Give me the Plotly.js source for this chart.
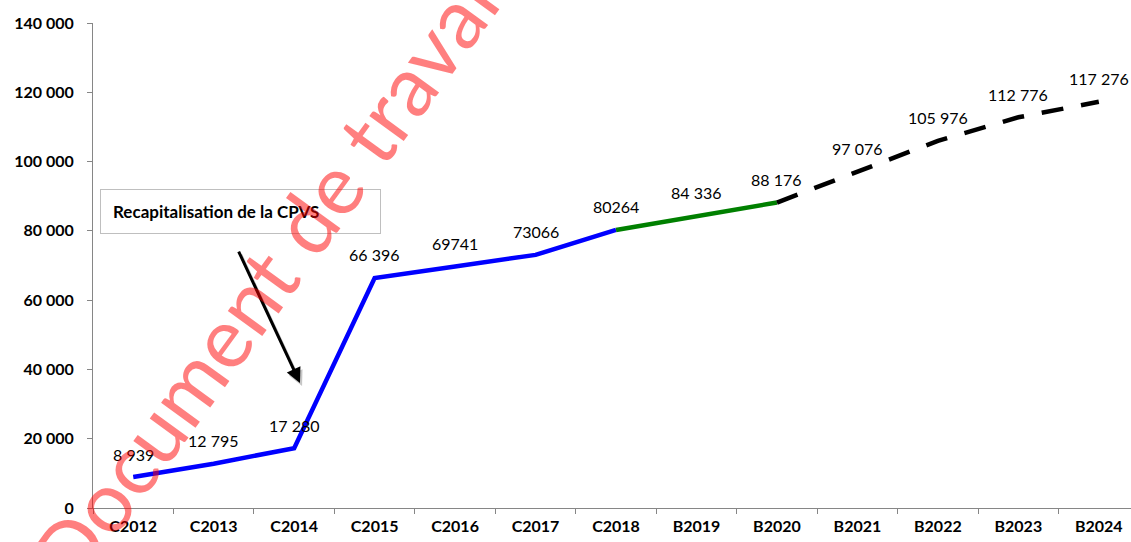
<!DOCTYPE html>
<html>
<head>
<meta charset="utf-8">
<script src="https://cdn.plot.ly/plotly-3.0.1.min.js"></script>
<style>
  html, body { margin: 0; padding: 0; background: #fff; }
  #plot { width: 1131px; height: 542px; }
</style>
</head>
<body>
<div id="plot"></div>
<script>
// categories (C = réalisé, B = budget)
const categories = ['C2012', 'C2013', 'C2014', 'C2015', 'C2016', 'C2017', 'C2018',
                    'B2019', 'B2020', 'B2021', 'B2022', 'B2023', 'B2024'];
const values = [8939, 12795, 17280, 66396, 69741, 73066, 80264,
                84336, 88176, 97076, 105976, 112776, 117276];
// labels as written on the chart
const valueLabels = ['8 939', '12 795', '17 280', '66 396', '69741', '73066', '80264',
                     '84 336', '88 176', '97 076', '105 976', '112 776', '117 276'];

// segments: realised (blue), 2019-2020 (green), projection (black dashes)
const blueEnd = 6, greenEnd = 8;

const font = 'Lato, "Open Sans", "DejaVu Sans", sans-serif';

const traces = [
    {
        x: categories.slice(0, blueEnd + 1),
        y: values.slice(0, blueEnd + 1),
        mode: 'lines',
        line: { color: '#0000FF', width: 4.5 },
        hoverinfo: 'skip'
    },
    {
        x: categories.slice(blueEnd, greenEnd + 1),
        y: values.slice(blueEnd, greenEnd + 1),
        mode: 'lines',
        line: { color: '#008000', width: 4.5 },
        hoverinfo: 'skip'
    },
    {
        x: categories.slice(greenEnd),
        y: values.slice(greenEnd),
        mode: 'lines',
        line: { color: '#000000', width: 4.5, dash: '22px,18px' },
        hoverinfo: 'skip'
    }
];

// data labels above each point
const labelNotes = categories.map((c, i) => ({
    x: c, y: values[i], xref: 'x', yref: 'y',
    text: valueLabels[i], showarrow: false,
    yshift: 23,
    font: { family: font, size: 16, color: '#000' }
}));

const layout = {
    width: 1131,
    height: 542,
    margin: { l: 93, r: 0, t: 23, b: 34 },
    paper_bgcolor: '#fff',
    plot_bgcolor: '#fff',
    showlegend: false,
    separators: ', ',
    xaxis: {
        type: 'category',
        range: [-0.5, 12.4],
        showgrid: false,
        zeroline: false,
        showline: true,
        linecolor: '#868686',
        linewidth: 1,
        ticks: 'outside',
        tickson: 'boundaries',
        ticklen: 5,
        tickcolor: '#868686',
        tickfont: { family: font, size: 16, color: '#000', weight: 'bold' },
        ticklabelstandoff: 4
    },
    yaxis: {
        range: [0, 140000],
        tickvals: [0, 20000, 40000, 60000, 80000, 100000, 120000, 140000],
        tickformat: ',d',
        showgrid: false,
        zeroline: false,
        showline: true,
        linecolor: '#868686',
        linewidth: 1,
        ticks: 'outside',
        ticklen: 5,
        tickcolor: '#868686',
        tickfont: { family: font, size: 16, color: '#000', weight: 'bold' },
        ticklabelstandoff: 10
    },
    annotations: [
        ...labelNotes,
        {
            xref: 'paper', yref: 'paper', x: 0.142, y: 0.611,
            xanchor: 'center', yanchor: 'middle',
            text: '<b>Recapitalisation de la CPVS</b>',
            showarrow: false,
            align: 'left',
            width: 255, height: 19,
            bordercolor: '#BFBFBF', borderwidth: 1, borderpad: 12,
            bgcolor: 'rgba(255,255,255,0)',
            font: { family: font, size: 17, color: '#000' }
        },
        // arrow shadow
        {
            xref: 'paper', yref: 'paper', x: 0.2014, y: 0.2515,
            ax: -62, ay: -133,
            text: '', showarrow: true,
            arrowhead: 2, arrowsize: 1, arrowwidth: 3, arrowcolor: 'rgba(0,0,0,0.22)'
        },
        {
            xref: 'paper', yref: 'paper', x: 0.1994, y: 0.2577,
            ax: -62, ay: -133,
            text: '', showarrow: true,
            arrowhead: 2, arrowsize: 1, arrowwidth: 3, arrowcolor: '#000'
        },
        // watermark
        {
            xref: 'paper', yref: 'paper', x: 0.1696, y: 0.4866,
            xanchor: 'center', yanchor: 'middle',
            text: 'Document de travail',
            showarrow: false,
            textangle: -54,
            font: { family: font, size: 84, color: 'rgba(255,0,0,0.5)' }
        }
    ]
};

Plotly.newPlot('plot', traces, layout, { displayModeBar: false, staticPlot: true });
</script>
</body>
</html>
